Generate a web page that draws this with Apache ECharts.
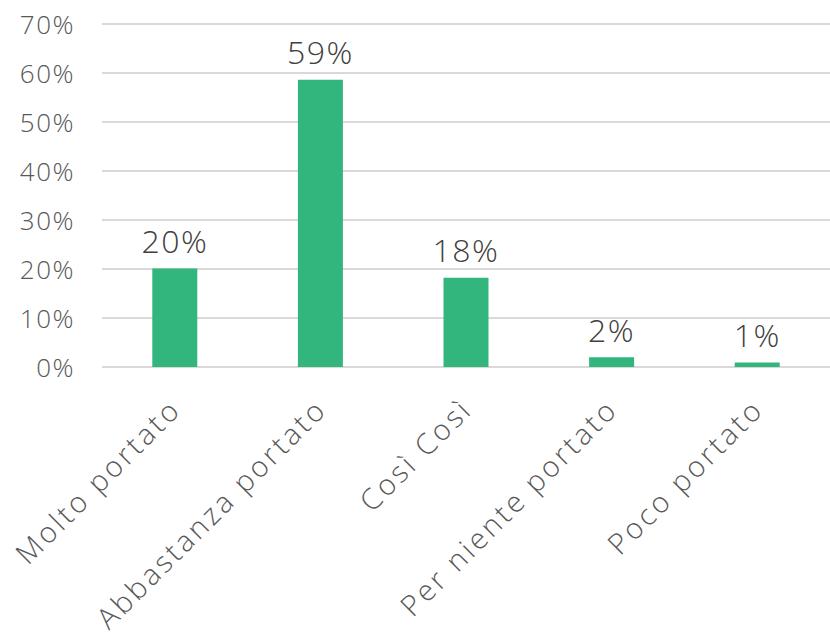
<!DOCTYPE html>
<html><head><meta charset="utf-8">
<script src="https://cdn.jsdelivr.net/npm/echarts@6/dist/echarts.min.js"></script>
<style>
html,body{margin:0;padding:0;background:#fff}#c{width:830px;height:635px}
#c text[style*="29px"]{letter-spacing:3px}
#c text[style*="26px"]{letter-spacing:1.5px}
#c text[style*="32px"]{letter-spacing:1.5px}
</style>
</head><body><div id="c"></div>
<script>
const categories = ['Molto portato', 'Abbastanza portato', 'Così Così', 'Per niente portato', 'Poco portato'];
const values = [20.1, 58.6, 18.2, 2.0, 0.9];
const yTicks = [0, 10, 20, 30, 40, 50, 60, 70];

const chart = echarts.init(document.getElementById('c'), null, { renderer: 'svg' });
const font = '"Open Sans", Lato, sans-serif';
chart.setOption({
  animation: false,
  grid: { left: 102, width: 729, top: 24, height: 343, containLabel: false },
  xAxis: {
    type: 'category', data: categories,
    axisLine: { show: false }, axisTick: { show: false },
    axisLabel: { rotate: 45, interval: 0, margin: 36, color: '#595959', fontSize: 29, fontFamily: font, fontWeight: 300 }
  },
  yAxis: {
    type: 'value', min: yTicks[0], max: yTicks[yTicks.length - 1], interval: 10,
    axisLine: { show: false }, axisTick: { show: false },
    splitLine: { lineStyle: { color: '#d9d9d9', width: 2 } },
    axisLabel: { formatter: v => v + '%', margin: 27, color: '#595959', fontSize: 26, fontFamily: font, fontWeight: 300 }
  },
  series: [{
    type: 'bar', data: values, barWidth: 45,
    itemStyle: { color: '#33b67e' },
    label: { show: true, position: 'top', distance: 12, formatter: p => Math.round(p.value) + '%', color: '#404040', fontSize: 32, fontFamily: font, fontWeight: 300 }
  }]
});
</script></body></html>
